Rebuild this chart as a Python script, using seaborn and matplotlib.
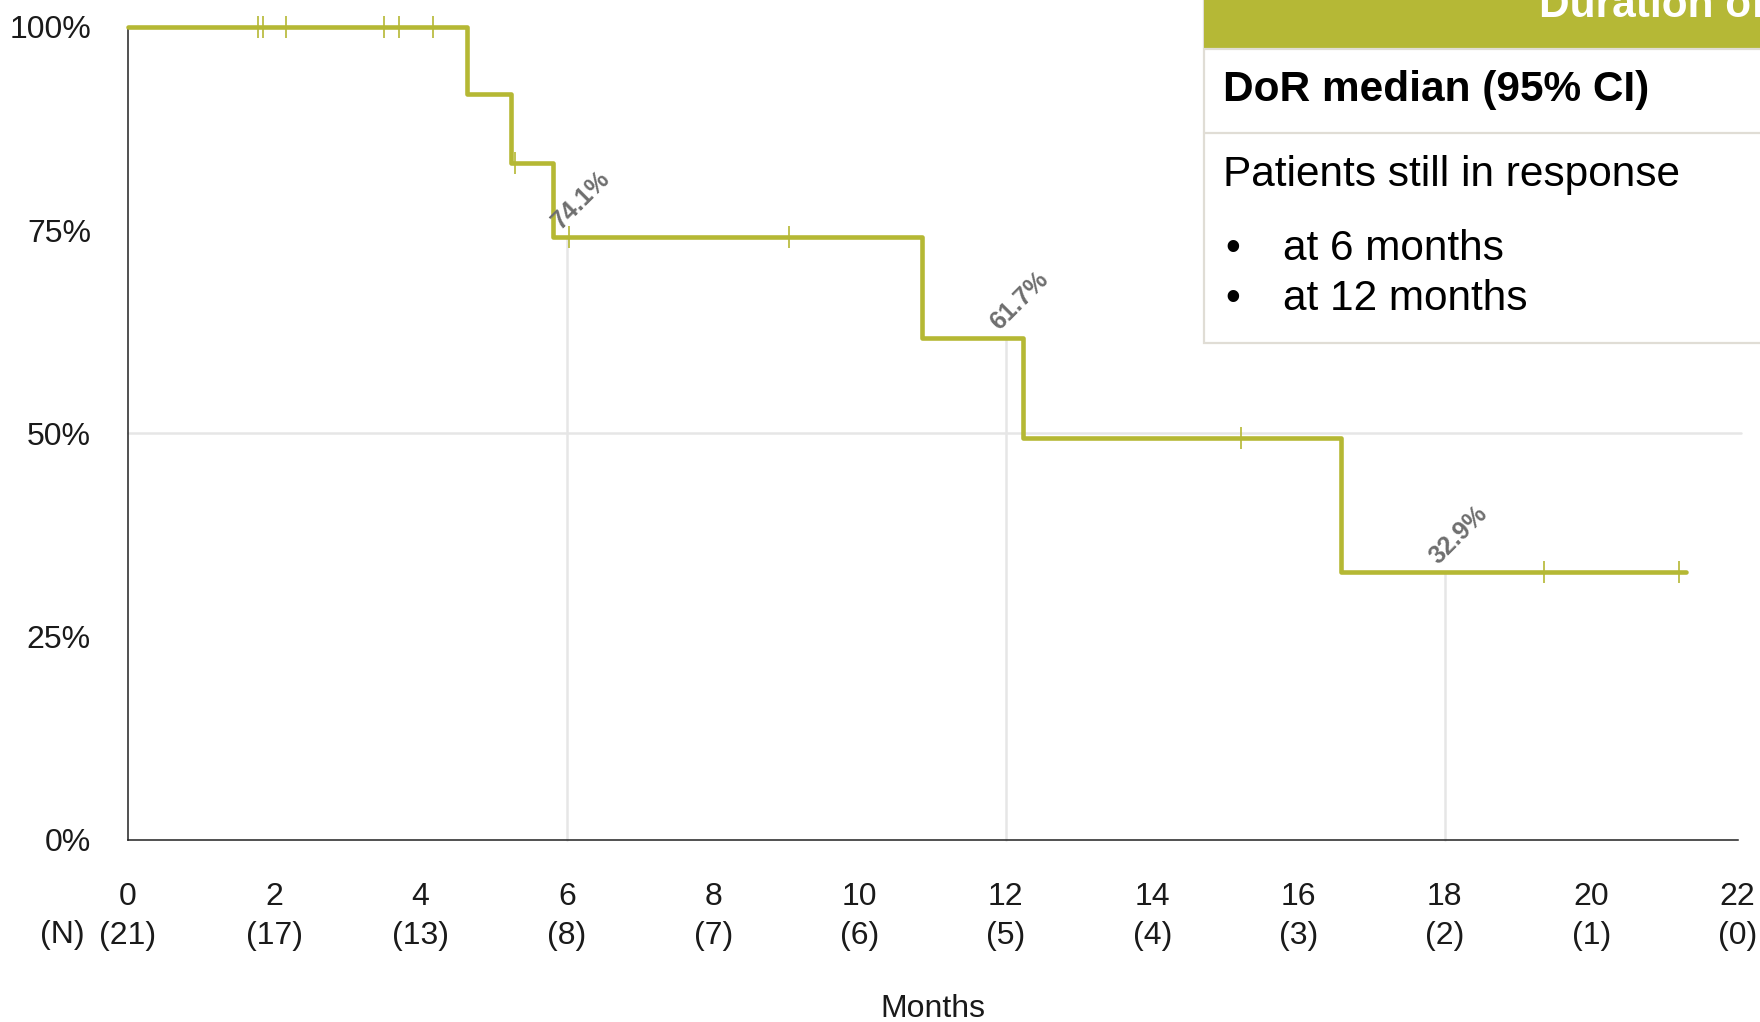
import numpy as np
import pandas as pd
import matplotlib
matplotlib.use("Agg")
import matplotlib.pyplot as plt
from matplotlib.patches import Rectangle
from matplotlib.lines import Line2D
import seaborn as sns

# Kaplan-Meier step function: event times (months) and survival after each step
step_months = [0.0, 4.63, 5.23, 5.81, 10.85, 12.24, 16.58, 21.30]
step_survival = [1.000, 0.917, 0.833, 0.741, 0.617, 0.494, 0.329, 0.329]

# Censored observations (months)
censor_months = [1.78, 1.84, 2.16, 3.50, 3.70, 4.17, 5.29, 6.03, 9.04, 15.22, 19.36, 21.20]

# Landmark estimates
landmark_months = [6, 12, 18]
landmark_pct = [74.1, 61.7, 32.9]

# Axis ticks and numbers at risk
tick_months = [0, 2, 4, 6, 8, 10, 12, 14, 16, 18, 20, 22]
at_risk = [21, 17, 13, 8, 7, 6, 5, 4, 3, 2, 1, 0]
y_ticks = [0, 0.25, 0.5, 0.75, 1.0]
y_labels = ["0%", "25%", "50%", "75%", "100%"]

OLIVE = "#b5b834"
GRID = "#e6e6e6"
TXT = "#1a1a1a"
LABEL_SIZE = 23

sns.set_theme(style="white")
plt.rcParams["font.family"] = ["Liberation Sans", "DejaVu Sans"]

W, H = 1760, 1022
fig = plt.figure(figsize=(W / 100, H / 100), dpi=100)
ax = fig.add_axes([128 / W, 1 - 839.6 / H, (1737.5 - 128) / W, (839.6 - 27) / H])

# reference lines
ax.plot([0, 22.05], [0.5, 0.5], color=GRID, lw=1.8, zorder=1, clip_on=False)
for m, p in zip(landmark_months, landmark_pct):
    ax.plot([m, m], [0, p / 100], color=GRID, lw=1.8, zorder=1)

# survival curve
curve = pd.DataFrame({"month": step_months, "survival": step_survival})
sns.lineplot(data=curve, x="month", y="survival", estimator=None, sort=False,
             drawstyle="steps-post", color=OLIVE, lw=3.3, ax=ax, zorder=3)
for ln in ax.lines:
    ln.set_clip_on(False)

# censor marks sit on the step curve
idx = np.searchsorted(step_months, censor_months, side="right") - 1
censor_y = np.array(step_survival)[idx]
ax.plot(censor_months, censor_y, linestyle="none", marker="|", markersize=16,
        markeredgewidth=1.2, color=OLIVE, zorder=4, clip_on=False)

# landmark labels
for m, p in zip(landmark_months, landmark_pct):
    ax.annotate(f"{p:.1f}%", xy=(m, p / 100), xytext=(10, 27),
                textcoords="offset points", ha="center", va="center",
                rotation=45, fontsize=18, fontweight="bold", color="#6e6e6e",
                zorder=5)

ax.set_xlim(0, 22)
ax.set_ylim(0, 1)
ax.set_xticks(tick_months)
ax.set_xticklabels([f"{m}\n({n})" for m, n in zip(tick_months, at_risk)],
                   linespacing=1.38)
ax.set_yticks(y_ticks)
ax.set_yticklabels(y_labels)
ax.tick_params(axis="both", direction="out", length=13.7, width=1.0,
               color="#222222", labelsize=LABEL_SIZE, labelcolor=TXT)
ax.tick_params(axis="x", pad=17)
ax.tick_params(axis="y", pad=13)
ax.set_xlabel("Months", fontsize=LABEL_SIZE, color=TXT, labelpad=31)
ax.set_ylabel("")
for s in ["top", "right"]:
    ax.spines[s].set_visible(False)
for s in ["left", "bottom"]:
    ax.spines[s].set_color("#222222")
    ax.spines[s].set_linewidth(1.1)
ax.grid(False)

fig.text(62 / W, 1 - 935 / H, "(N)", ha="center", va="center",
         fontsize=LABEL_SIZE, color=TXT)

# summary box in the top-right corner
def fx(px):
    return px / W

def fy(py):
    return 1 - py / H

BORDER = "#e0ddd5"
fig.add_artist(Rectangle((fx(1204), fy(343)), fx(W + 20) - fx(1204), fy(-10) - fy(343),
                         transform=fig.transFigure, facecolor="white",
                         edgecolor=BORDER, lw=1.6, zorder=10))
fig.add_artist(Rectangle((fx(1204), fy(48)), fx(W + 20) - fx(1204), fy(-10) - fy(48),
                         transform=fig.transFigure, facecolor="#b5b836",
                         edgecolor="none", zorder=11))
fig.add_artist(Line2D([fx(1204), fx(W)], [fy(49), fy(49)], transform=fig.transFigure,
                      color=BORDER, lw=1.6, zorder=11))
fig.add_artist(Line2D([fx(1204), fx(W)], [fy(133), fy(133)], transform=fig.transFigure,
                      color=BORDER, lw=1.6, zorder=11))

fig.text(fx(1539), fy(17), "Duration of", ha="left", va="baseline",
         fontsize=30.5, fontweight="bold", color="white", zorder=12)
fig.text(fx(1223), fy(90), "DoR median (95% CI)", ha="left", va="center",
         fontsize=30.5, fontweight="bold", color="black", zorder=12)
fig.text(fx(1223), fy(175), "Patients still in response", ha="left", va="center",
         fontsize=30.5, color="black", zorder=12)
for yy, txt in [(249, "at 6 months"), (299, "at 12 months")]:
    fig.text(fx(1225), fy(yy), "\u2022", ha="left", va="center",
             fontsize=30.5, color="black", zorder=12)
    fig.text(fx(1283), fy(yy), txt, ha="left", va="center",
             fontsize=30.5, color="black", zorder=12)

fig.savefig("out.png", dpi=100, facecolor="white")
